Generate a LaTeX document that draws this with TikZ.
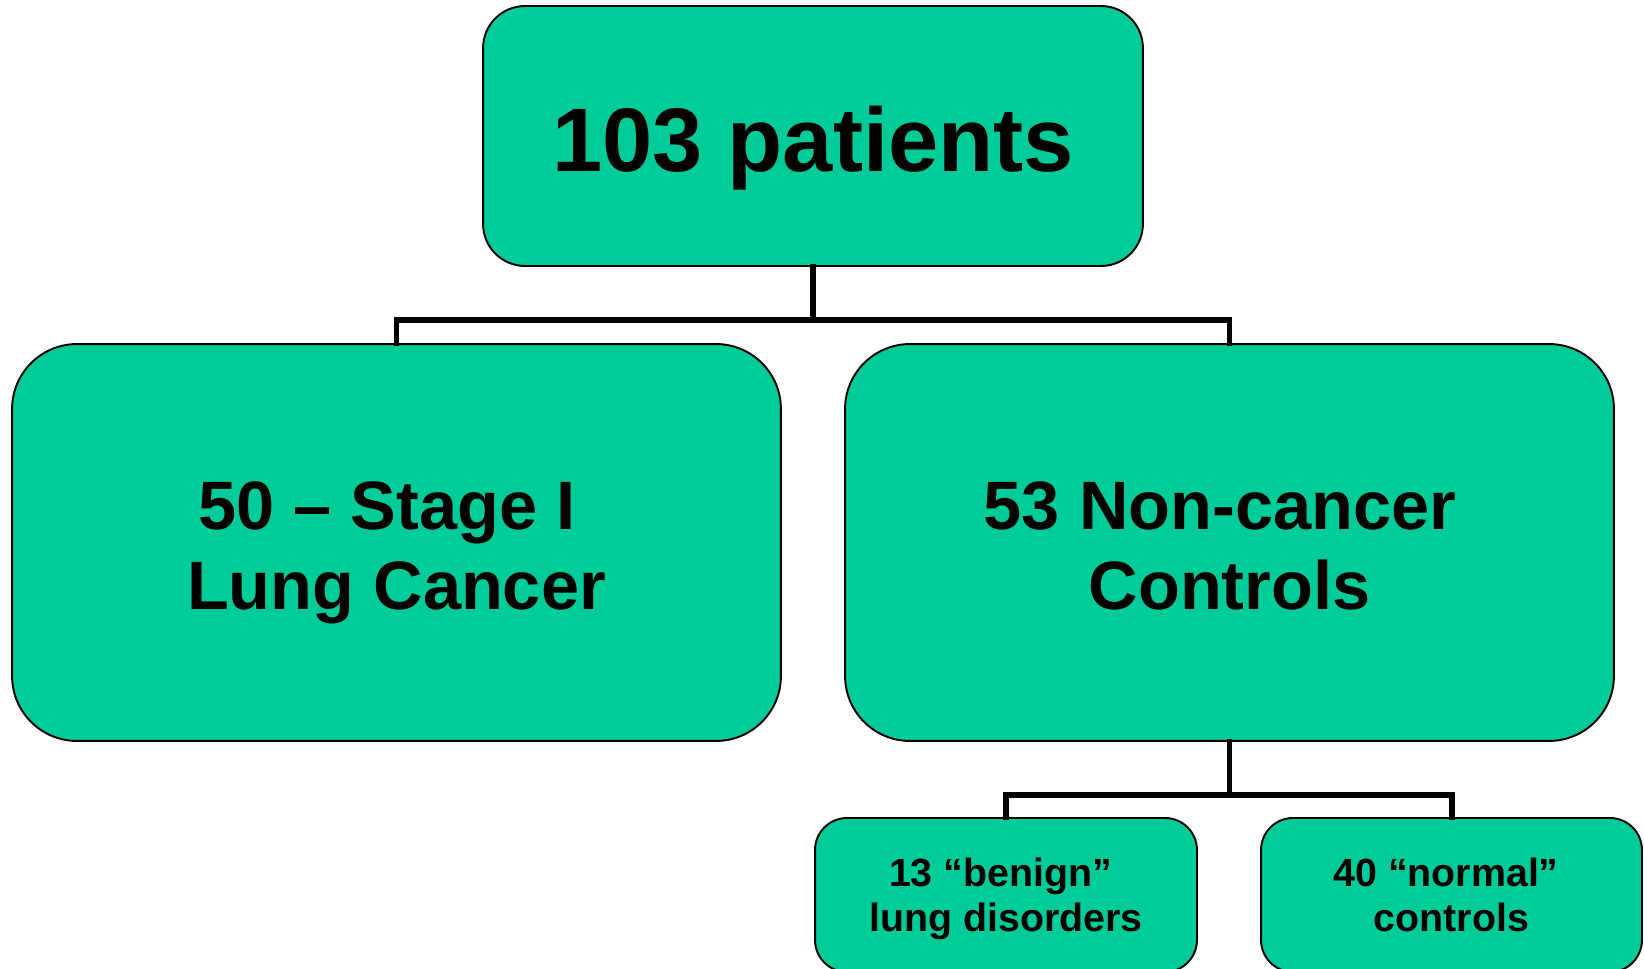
\documentclass[tikz,border=0pt]{standalone}
\usepackage{fontspec}
\setmainfont{Liberation Sans}
\definecolor{boxgreen}{RGB}{0,204,153}
\tikzset{
  groupbox/.style={draw=black, line width=1.1pt, fill=boxgreen, rounded corners=#1, inner sep=0pt},
  grouptext/.style={align=center, inner sep=0pt},
  split/.style={line width=3.4pt, line cap=rect}
}
\begin{document}
\begin{tikzpicture}[x=0.02cm, y=-0.02cm]

	\useasboundingbox (0,0) rectangle (1644,969);

	\node[groupbox=0.84cm, minimum width=13.2cm, minimum height=5.2cm] (total) at (813,136) {};
	\node[groupbox=1.3cm, minimum width=15.38cm, minimum height=7.94cm] (cancer) at (396.5,542.5) {};
	\node[groupbox=1.3cm, minimum width=15.38cm, minimum height=7.94cm] (noncancer) at (1229.5,542.5) {};
	\node[groupbox=0.64cm, minimum width=7.64cm, minimum height=3.08cm] (benign) at (1006,895) {};
	\node[groupbox=0.64cm, minimum width=7.62cm, minimum height=3.08cm] (normal) at (1451.5,895) {};

	\node[grouptext, yshift=-8.3pt, font=\fontsize{51.4}{60}\selectfont\bfseries] (total-txt) at (total.center) {\strut 103 patients};
	\node[grouptext, yshift=-6.3pt, font=\fontsize{39}{45.5}\selectfont\bfseries] (cancer-txt) at (cancer.center) {\strut 50 -- Stage I\kern0.278em\\\strut Lung Cancer};
	\node[grouptext, yshift=-6.3pt, font=\fontsize{39}{45.5}\selectfont\bfseries] (noncancer-txt) at (noncancer.center) {\strut 53 Non-cancer\kern0.278em\\\strut Controls};
	\node[grouptext, yshift=-2.9pt, font=\fontsize{22.4}{25.5}\selectfont\bfseries] (benign-txt) at (benign.center) {\strut 13 ``benign''\kern0.278em\\\strut lung disorders};
	\node[grouptext, yshift=-2.9pt, font=\fontsize{22.4}{25.5}\selectfont\bfseries] (normal-txt) at (normal.center) {\strut 40 ``normal''\kern0.278em\\\strut controls};

	\coordinate (fork1) at (813,320);
	\coordinate (fork2) at (1229.5,795);

	\draw[split] (total.south) -- (fork1);
	\draw[split] (cancer.north) |- (fork1) -| (noncancer.north);
	\draw[split] (noncancer.south) -- (fork2);
	\draw[split] (benign.north) |- (fork2) -| (normal.north);

\end{tikzpicture}
\end{document}
